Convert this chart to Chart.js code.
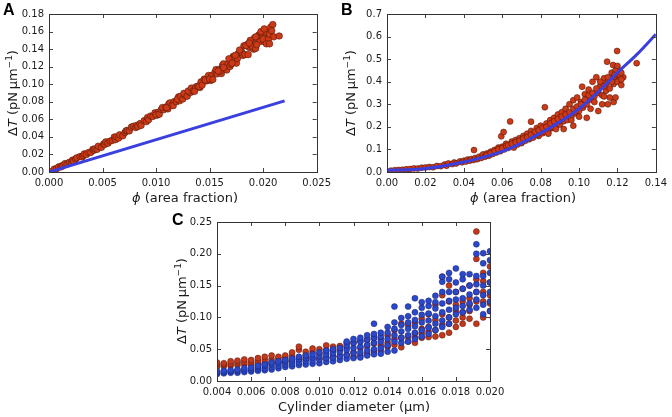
<!DOCTYPE html>
<html>
<head>
<meta charset="utf-8">
<script src="https://cdn.jsdelivr.net/npm/chart.js@4.4.1/dist/chart.umd.min.js"></script>
<style>
  body { margin: 0; background: #fff; width: 672px; height: 417px; position: relative; overflow: hidden; }
  canvas { position: absolute; }
</style>
</head>
<body>
<canvas id="chartA" width="336" height="205" style="left:0;top:0"></canvas>
<canvas id="chartB" width="336" height="205" style="left:336px;top:0"></canvas>
<canvas id="chartC" width="360" height="212" style="left:150px;top:205px"></canvas>
<script>
// panel A: tension vs area fraction (simulation points + linear theory)
const phiA = [
  0.0002,0.0005,0.0007, 0.0009,0.0011,0.0012, 0.0013,0.0015,0.0017, 0.0019,0.0021,0.0022,
  0.0023,0.0025,0.0026, 0.0029,0.0031,0.0032, 0.0033,0.0035,0.0037, 0.0039,0.0041,0.0042,
  0.0043,0.0045,0.0046, 0.0049,0.0051,0.0052, 0.0053,0.0055,0.0057, 0.0059,0.0061,0.0062,
  0.0063,0.0065,0.0066, 0.0069,0.0071,0.0072, 0.0073,0.0075,0.0077, 0.0079,0.0081,0.0082,
  0.0083,0.0085,0.0086, 0.0089,0.0091,0.0092, 0.0093,0.0095,0.0097,
  0.0099,0.0101,0.0102,0.0100, 0.0103,0.0105,0.0107,0.0106, 0.0109,0.0111,0.0112,0.0110,
  0.0113,0.0115,0.0117,0.0116, 0.0119,0.0121,0.0122,0.0120, 0.0123,0.0125,0.0127,0.0126,
  0.0129,0.0131,0.0132,0.0130, 0.0133,0.0135,0.0137,0.0136, 0.0139,0.0141,0.0142,0.0140,
  0.0143,0.0145,0.0147,0.0146, 0.0149,0.0151,0.0152,0.0150, 0.0153,0.0155,0.0157,0.0156,
  0.0159,0.0161,0.0162,0.0160, 0.0163,0.0165,0.0167,0.0166, 0.0169,0.0171,0.0172,0.0170,
  0.0173,0.0175,0.0177,0.0176, 0.0179,0.0181,0.0182,0.0180, 0.0183,0.0185,0.0187,0.0186,
  0.0189,0.0191,0.0192,0.0190, 0.0193,0.0195,0.0197,0.0196, 0.0199,0.0201,0.0202,0.0200,
  0.0203,0.0205,0.0207,0.0206, 0.0209,0.0210,0.0215,0.0208,
  0.0188,0.0193,0.0198,0.0203,0.0184,0.0178,0.0168,0.0163,0.0158,0.0194,0.0201,0.0206,
  0.0174,0.0171,0.0187
];
const tensionA = [
  0.0006,0.0034,0.0037, 0.0058,0.0057,0.0071, 0.0070,0.0096,0.0089, 0.0111,0.0112,0.0135,
  0.0121,0.0149,0.0162, 0.0176,0.0171,0.0187, 0.0207,0.0199,0.0223, 0.0223,0.0259,0.0247,
  0.0263,0.0258,0.0294, 0.0281,0.0319,0.0314, 0.0343,0.0327,0.0352, 0.0359,0.0398,0.0368,
  0.0400,0.0386,0.0424, 0.0412,0.0450,0.0469, 0.0473,0.0468,0.0513, 0.0522,0.0506,0.0531,
  0.0518,0.0552,0.0531, 0.0585,0.0574,0.0620, 0.0596,0.0638,0.0633,
  0.0674,0.0648,0.0680,0.0651, 0.0658,0.0712,0.0709,0.0735, 0.0740,0.0719,0.0777,0.0735,
  0.0787,0.0763,0.0802,0.0756, 0.0801,0.0856,0.0811,0.0831, 0.0861,0.0832,0.0876,0.0896,
  0.0863,0.0913,0.0905,0.0923, 0.0956,0.0924,0.0969,0.0919, 0.0979,0.0962,0.1027,0.0973,
  0.0990,0.1059,0.1038,0.1047, 0.1100,0.1043,0.1101,0.1059, 0.1053,0.1137,0.1118,0.1168,
  0.1166,0.1121,0.1214,0.1151, 0.1232,0.1175,0.1225,0.1162, 0.1202,0.1267,0.1317,0.1228,
  0.1304,0.1240,0.1352,0.1294, 0.1385,0.1328,0.1438,0.1364, 0.1337,0.1452,0.1419,0.1337,
  0.1467,0.1398,0.1528,0.1429, 0.1408,0.1512,0.1486,0.1562, 0.1580,0.1485,0.1569,0.1515,
  0.1594,0.1514,0.1649,0.1569, 0.1680,0.1540,0.1550,0.1610,
  0.1500,0.1540,0.1600,0.1460,0.1440,0.1390,0.1290,0.1190,0.1150,0.1450,0.1630,0.1460,
  0.1330,0.1240,0.1470
];
const fitPhiA = [0, 0.022];
const fitTensionA = [0, 0.081];

// panel B
const phiB = [
  0.002,0.004,0.006,0.008,0.010,0.012,0.014,0.016,0.018,0.020,0.022,0.024,0.026,0.028,0.030,0.031,
  0.032,0.034,0.035,0.036,0.038,0.039,0.040,0.041,0.042,0.043,0.044,0.045,0.046,0.047,0.048,0.049,
  0.050,0.051,0.052,0.053,0.054,0.055,0.056,0.057,0.058,0.059,0.0595,0.060,0.061,0.062,0.063,0.0641,
  0.064,0.065,0.066,0.067,0.068,0.069,0.070,0.071,0.072,0.073,0.074,0.075,0.076,0.077,0.078,0.079,
  0.080,0.081,0.0822,0.082,0.083,0.084,0.085,0.086,0.087,0.088,0.089,0.090,0.091,0.092,0.093,0.094,
  0.095,0.096,0.097,0.098,0.099,0.100,0.1016,0.101,0.102,0.103,0.104,0.105,0.106,0.107,0.108,0.109,
  0.110,0.111,0.112,0.113,0.114,0.1146,0.115,0.116,0.117,0.1177,0.118,0.119,0.1198,0.120,0.121,0.122,
  0.123,0.130,
  0.092,0.097,0.104,0.110,0.115,0.118,
  0.066,0.070,0.074,0.078,0.082,0.086,0.090,0.094,0.098,0.102,0.106,0.110,0.114,0.118,0.121,0.122,
  0.0453,0.0607,0.075,
  0.052,0.054,0.056,0.058,0.060,0.062,0.063,0.065,0.067,0.069,0.071,0.073,0.075,0.077,0.079,0.081,
  0.083,0.085,0.087,0.089,0.091,0.093,0.095,0.097,0.099,0.101,0.103,0.105,0.107,0.109,0.111,0.113,
  0.115,0.117,0.119,0.116,0.112,0.108,0.100,0.096,0.088,0.084,0.106,0.120,0.122,0.1185,0.113,0.119
];
const tensionB = [
  0.006,0.008,0.009,0.010,0.012,0.013,0.016,0.015,0.019,0.020,0.022,0.021,0.027,0.026,0.033,0.028,
  0.038,0.035,0.042,0.038,0.047,0.043,0.050,0.046,0.055,0.050,0.058,0.053,0.062,0.057,0.068,0.062,
  0.078,0.068,0.082,0.072,0.090,0.080,0.098,0.086,0.108,0.092,0.158,0.112,0.100,0.125,0.106,0.224,
  0.118,0.135,0.112,0.142,0.122,0.150,0.128,0.160,0.138,0.170,0.145,0.182,0.152,0.165,0.195,0.160,
  0.205,0.172,0.287,0.190,0.215,0.178,0.230,0.195,0.240,0.205,0.255,0.210,0.265,0.225,0.280,0.230,
  0.300,0.245,0.318,0.260,0.330,0.270,0.378,0.310,0.285,0.345,0.300,0.365,0.320,0.400,0.335,0.420,
  0.350,0.380,0.300,0.415,0.360,0.489,0.400,0.330,0.440,0.474,0.390,0.420,0.536,0.400,0.450,0.385,
  0.420,0.482,
  0.190,0.205,0.240,0.270,0.300,0.310,
  0.108,0.130,0.150,0.165,0.178,0.200,0.225,0.248,0.268,0.295,0.330,0.360,0.390,0.420,0.430,0.410,
  0.097,0.177,0.223,
  0.075,0.083,0.092,0.100,0.105,0.115,0.118,0.125,0.132,0.138,0.148,0.155,0.165,0.178,0.185,0.195,
  0.200,0.215,0.225,0.235,0.245,0.255,0.265,0.280,0.290,0.300,0.320,0.340,0.350,0.370,0.400,0.380,
  0.420,0.400,0.450,0.370,0.340,0.310,0.245,0.230,0.190,0.170,0.280,0.470,0.440,0.430,0.335,0.330
];
const fitPhiB = [0, 0.01, 0.02, 0.03, 0.04, 0.05, 0.06, 0.07, 0.08, 0.09, 0.10, 0.11, 0.12, 0.13, 0.14];
const fitTensionB = [0.008, 0.010, 0.016, 0.028, 0.044, 0.065, 0.091, 0.128, 0.172, 0.222, 0.28, 0.355, 0.44, 0.52, 0.61];

// panel C: one column of points per cylinder diameter
const diamC = [
  0.0040,0.0044,0.0048,0.0052,0.0056,0.0060,0.0064,0.0068,0.0072,0.0076,0.0080,
  0.0084,0.0088,0.0092,0.0096,0.0100,0.0104,0.0108,0.0112,0.0116,0.0120,
  0.0124,0.0128,0.0132,0.0136,0.0140,0.0144,0.0148,0.0152,0.0156,0.0160,
  0.0164,0.0168,0.0172,0.0176,0.0180,0.0184,0.0188,0.0192,0.0196,0.0200
];
const redC = [
  [0.022,0.026,0.029],[0.023,0.026,0.028],[0.024,0.027,0.031],[0.025,0.029,0.032],
  [0.026,0.030,0.034],[0.025,0.029,0.033],[0.027,0.031,0.036],[0.028,0.033,0.038],
  [0.029,0.034,0.040],[0.030,0.035,0.038],[0.031,0.036,0.040],[0.033,0.039,0.045],
  [0.035,0.049,0.054],[0.034,0.040,0.046],[0.036,0.046,0.051],[0.035,0.043,0.050],
  [0.036,0.048,0.056],[0.038,0.047,0.054],[0.039,0.049,0.055],[0.041,0.053,0.060],
  [0.038,0.045,0.060],[0.040,0.052,0.063],[0.043,0.055,0.065],[0.046,0.059,0.068],
  [0.048,0.056,0.066],[0.054,0.060,0.072],[0.057,0.066,0.080],[0.053,0.068,0.090],
  [0.062,0.070,0.088],[0.060,0.068,0.075,0.092],[0.068,0.075,0.082,0.098],
  [0.069,0.078,0.085,0.105],[0.070,0.080,0.096,0.120],[0.072,0.088,0.105,0.135,0.164],
  [0.076,0.090,0.100,0.125,0.150],[0.085,0.095,0.110,0.120,0.140],
  [0.090,0.100,0.108,0.125,0.145],[0.098,0.110,0.120,0.130,0.150],
  [0.090,0.125,0.140,0.160,0.192,0.235],[0.100,0.125,0.140,0.157,0.170],
  [0.110,0.122,0.135,0.155,0.180]
];
const blueC = [
  [0.011,0.013,0.015],[0.012,0.014,0.016],[0.013,0.015,0.017],[0.013,0.016,0.018],
  [0.014,0.017,0.020],[0.015,0.018,0.021],[0.016,0.019,0.022,0.024],[0.017,0.020,0.024,0.026],
  [0.018,0.022,0.026,0.029],[0.020,0.024,0.028,0.031],[0.022,0.026,0.030,0.033],
  [0.023,0.027,0.031,0.035],[0.025,0.029,0.034,0.038],[0.026,0.031,0.036,0.040],
  [0.027,0.032,0.037,0.042],[0.028,0.034,0.039,0.045],[0.030,0.036,0.042,0.048],
  [0.031,0.037,0.044,0.050],[0.033,0.039,0.046,0.052],[0.035,0.041,0.049,0.056,0.062],
  [0.036,0.044,0.052,0.060,0.066],[0.037,0.045,0.054,0.062,0.068],
  [0.040,0.048,0.057,0.065,0.072],[0.042,0.050,0.060,0.068,0.074,0.090],
  [0.043,0.052,0.062,0.070,0.076],[0.046,0.056,0.066,0.076,0.085],
  [0.048,0.062,0.072,0.082,0.092,0.117],[0.060,0.068,0.078,0.088,0.099],
  [0.062,0.072,0.082,0.092,0.102,0.117],[0.066,0.076,0.086,0.096,0.108,0.130],
  [0.070,0.080,0.092,0.104,0.115,0.124],[0.074,0.084,0.095,0.106,0.118,0.126],
  [0.080,0.090,0.102,0.114,0.124,0.134],[0.085,0.095,0.108,0.122,0.140,0.156,0.164],
  [0.090,0.100,0.112,0.126,0.140,0.160,0.170],[0.105,0.115,0.128,0.140,0.155,0.177],
  [0.108,0.118,0.130,0.145,0.160,0.168],[0.112,0.122,0.136,0.150,0.168],
  [0.115,0.128,0.140,0.152,0.165,0.200,0.215],[0.105,0.120,0.135,0.150,0.165,0.185,0.201],
  [0.110,0.125,0.140,0.155,0.170,0.190,0.204]
];

// axis ranges: [min, max, step]
const xAxisA = [0, 0.025, 0.005];
const yAxisA = [0, 0.18, 0.02];
const xAxisB = [0, 0.14, 0.02];
const yAxisB = [0, 0.7, 0.1];
const xAxisC = [0.004, 0.020, 0.002];
const yAxisC = [0, 0.25, 0.05];

const RED = '#cc3a17';
const RED_EDGE = 'rgba(70,18,6,0.85)';
const BLUE = '#3a3fe0';
const FONT = "'DejaVu Sans'";
const TXT = '#1a1a1a';

const pts = (xs, ys) => xs.map((x, i) => ({ x: x, y: ys[i] }));
const columns = (cols) => diamC.flatMap((d, i) => cols[i].map(v => ({ x: d, y: v })));

const yTitle = [
  { t: '\u0394', f: '13px ' + FONT },
  { t: 'T', f: 'italic 13px ' + FONT },
  { t: ' (pN\u2009\u00b5m', f: '13px ' + FONT },
  { t: '\u22121', f: '9px ' + FONT, dy: -5 },
  { t: ')', f: '13px ' + FONT }
];
const phiTitle = [
  { t: '\u03d5', f: 'italic 13px ' + FONT },
  { t: ' (area fraction)', f: '13px ' + FONT }
];
const diamTitle = [{ t: 'Cylinder diameter (\u00b5m)', f: '13px ' + FONT }];

// extra drawing per canvas: frame, inward ticks, rich axis titles, panel letter
const deco = {
  chartA: { letter: 'A', lx: 3, ly: 15, xt: phiTitle, xtx: 185, xty: 197, ytx: 12, yty: 93 },
  chartB: { letter: 'B', lx: 5, ly: 15, xt: phiTitle, xtx: 187, xty: 197, ytx: 14, yty: 93 },
  chartC: { letter: 'C', lx: 22, ly: 20, xt: diamTitle, xtx: 204, xty: 201, ytx: 31, yty: 96 }
};

function drawRich(ctx, parts, x, y, rot) {
  ctx.save();
  ctx.translate(x, y);
  ctx.rotate(rot);
  let w = 0;
  parts.forEach(p => { ctx.font = p.f; w += ctx.measureText(p.t).width; });
  let cx = -w / 2;
  ctx.fillStyle = TXT;
  ctx.textAlign = 'left';
  ctx.textBaseline = 'alphabetic';
  parts.forEach(p => {
    ctx.font = p.f;
    ctx.fillText(p.t, cx, 5 + (p.dy || 0));
    cx += ctx.measureText(p.t).width;
  });
  ctx.restore();
}

const panelDeco = {
  id: 'panelDeco',
  afterDraw(chart) {
    const d = deco[chart.canvas.id];
    const ctx = chart.ctx;
    const a = chart.chartArea;
    const sx = chart.scales.x, sy = chart.scales.y;
    ctx.save();
    ctx.strokeStyle = '#444';
    ctx.lineWidth = 1;
    ctx.beginPath();
    sx.ticks.forEach(t => {
      const px = Math.round(sx.getPixelForValue(t.value)) + 0.5;
      ctx.moveTo(px, a.bottom); ctx.lineTo(px, a.bottom - 4);
      ctx.moveTo(px, a.top); ctx.lineTo(px, a.top + 4);
    });
    sy.ticks.forEach(t => {
      const py = Math.round(sy.getPixelForValue(t.value)) + 0.5;
      ctx.moveTo(a.left, py); ctx.lineTo(a.left + 4, py);
      ctx.moveTo(a.right, py); ctx.lineTo(a.right - 4, py);
    });
    ctx.stroke();
    ctx.strokeStyle = '#333';
    ctx.strokeRect(Math.round(a.left) + 0.5, Math.round(a.top) + 0.5,
      Math.round(a.right - a.left), Math.round(a.bottom - a.top));
    ctx.restore();

    drawRich(ctx, d.xt, d.xtx, d.xty, 0);
    drawRich(ctx, yTitle, d.ytx, d.yty, -Math.PI / 2);

    ctx.save();
    ctx.fillStyle = '#000';
    ctx.font = "bold 16px 'Liberation Sans'";
    ctx.textBaseline = 'alphabetic';
    ctx.fillText(d.letter, d.lx, d.ly);
    ctx.restore();
  }
};

function axis(range, decimals, fit) {
  return {
    type: 'linear',
    min: range[0],
    max: range[1],
    afterFit: fit,
    grid: { display: false, drawTicks: false },
    border: { display: false },
    ticks: {
      stepSize: range[2],
      padding: 5,
      color: TXT,
      autoSkip: false,
      maxRotation: 0,
      font: { family: FONT, size: 10 },
      callback: v => v.toFixed(decimals)
    }
  };
}

function makePanel(id, datasets, xr, xd, yr, yd, pad, xh, yw) {
  return new Chart(document.getElementById(id), {
    type: 'scatter',
    data: { datasets: datasets },
    options: {
      responsive: false,
      animation: false,
      events: [],
      layout: { padding: pad },
      plugins: { legend: { display: false }, tooltip: { enabled: false } },
      scales: {
        x: axis(xr, xd, s => { s.height = xh; }),
        y: axis(yr, yd, s => { s.width = yw; })
      }
    },
    plugins: [panelDeco]
  });
}

makePanel('chartA', [
  { data: pts(fitPhiA, fitTensionA), showLine: true, borderColor: BLUE, borderWidth: 3, pointRadius: 0 },
  { data: pts(phiA, tensionA), backgroundColor: RED, borderColor: RED_EDGE, borderWidth: 0.6, pointRadius: 3.3 }
], xAxisA, 3, yAxisA, 2, { left: 0, right: 15, top: 14, bottom: 0 }, 33, 49);

makePanel('chartB', [
  { data: pts(fitPhiB, fitTensionB), showLine: true, borderColor: BLUE, borderWidth: 3, pointRadius: 0, cubicInterpolationMode: 'monotone' },
  { data: pts(phiB, tensionB), backgroundColor: RED, borderColor: RED_EDGE, borderWidth: 0.6, pointRadius: 3 }
], xAxisB, 2, yAxisB, 1, { left: 0, right: 13, top: 14, bottom: 0 }, 33, 51);

makePanel('chartC', [
  { data: columns(blueC), backgroundColor: '#2b48c8', borderColor: 'rgba(20,30,110,0.8)', borderWidth: 0.6, pointRadius: 3, clip: 0 },
  { data: columns(redC), backgroundColor: '#c0391c', borderColor: 'rgba(80,20,8,0.8)', borderWidth: 0.6, pointRadius: 3, clip: 0 }
], xAxisC, 3, yAxisC, 2, { left: 0, right: 20, top: 17, bottom: 0 }, 36, 67);
</script>
</body>
</html>
